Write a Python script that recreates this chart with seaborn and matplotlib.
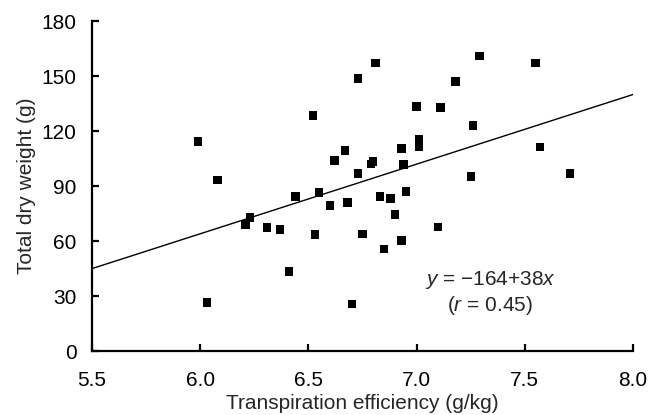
"""Total dry weight vs transpiration efficiency, with the fitted line."""
import matplotlib
matplotlib.use("Agg")
import matplotlib.pyplot as plt
import numpy as np
import pandas as pd
import seaborn as sns

# -------- Data --------
te = [5.99, 6.03, 6.08, 6.21, 6.23, 6.31, 6.37, 6.41, 6.44, 6.52,
      6.53, 6.55, 6.60, 6.62, 6.67, 6.68, 6.70, 6.73, 6.73, 6.75,
      6.79, 6.80, 6.81, 6.83, 6.85, 6.88, 6.90, 6.93, 6.93, 6.94,
      6.95, 7.00, 7.01, 7.01, 7.10, 7.11, 7.18, 7.25, 7.26, 7.29,
      7.55, 7.57, 7.71]
dry_weight = [114.4, 26.6, 93.3, 69.1, 72.9, 67.5, 66.4, 43.5, 84.4, 128.6,
              63.6, 86.6, 79.5, 104.0, 109.5, 81.1, 25.8, 148.7, 96.9, 63.8,
              102.0, 103.5, 157.0, 84.4, 55.6, 83.3, 74.6, 60.4, 110.6, 101.8,
              87.1, 133.5, 111.3, 115.5, 67.6, 132.9, 147.1, 95.3, 123.1, 160.9,
              157.0, 111.3, 96.9]

intercept, slope, r_value = -164, 38, 0.45
x_range = [5.5, 8.0]
x_ticks = [5.5, 6.0, 6.5, 7.0, 7.5, 8.0]
y_ticks = [0, 30, 60, 90, 120, 150, 180]

df = pd.DataFrame({"te": te, "dw": dry_weight})
fit = pd.DataFrame({"te": x_range,
                    "dw": [intercept + slope * v for v in x_range]})

# -------- Style --------
sns.set_style("white")
plt.rcParams["font.family"] = ["Liberation Sans", "DejaVu Sans"]
plt.rcParams["mathtext.fontset"] = "custom"
plt.rcParams["mathtext.it"] = "Liberation Sans:italic"
plt.rcParams["mathtext.rm"] = "Liberation Sans"

fig = plt.figure(figsize=(6.51, 4.15), dpi=100)
ax = fig.add_axes([0.1413, 0.154, 0.8311, 0.795])

sns.scatterplot(data=df, x="te", y="dw", ax=ax, marker="s", s=36,
                color="black", edgecolor="none", linewidth=0, zorder=3)
sns.lineplot(data=fit, x="te", y="dw", ax=ax, color="black", linewidth=1.0,
             zorder=2)

ax.set_xlim(x_range)
ax.set_ylim(0, 180)
ax.set_xticks(x_ticks)
ax.set_xticklabels([f"{v:.1f}" for v in x_ticks])
ax.set_yticks(y_ticks)

for side in ("top", "right"):
    ax.spines[side].set_visible(False)
for side in ("left", "bottom"):
    ax.spines[side].set_linewidth(1.6)
    ax.spines[side].set_color("black")
ax.tick_params(bottom=True, left=True, direction="in", length=5, width=1.6,
               labelsize=15, colors="black")
ax.tick_params(axis="x", pad=14)
ax.tick_params(axis="y", pad=11)

ax.set_xlabel("Transpiration efficiency (g/kg)", fontsize=15, labelpad=3)
ax.set_ylabel("Total dry weight (g)", fontsize=15, labelpad=4)

ax.text(7.34, 38.7, "$y$ = \u2212164+38$x$", ha="center", va="center",
        fontsize=15)
ax.text(7.34, 25.1, f"($r$ = {r_value:.2f})", ha="center", va="center",
        fontsize=15)

fig.savefig("out.png", dpi=100)
